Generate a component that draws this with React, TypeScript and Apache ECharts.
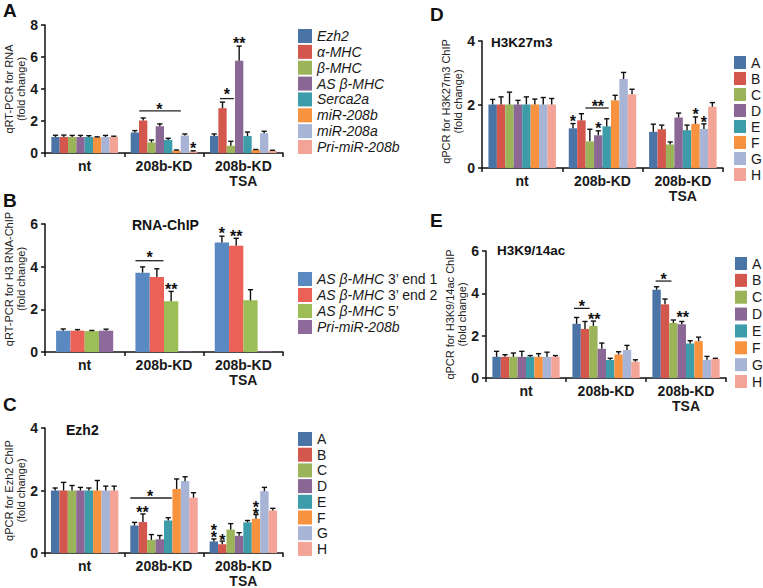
import React, { useEffect, useRef } from "react";
import * as echarts from "echarts";

const FONT = "'Liberation Sans', Arial, Helvetica, sans-serif";
const INK = "#1a1a1a";

const categories = ["nt", "208b-KD", "208b-KD\nTSA"];

const colors8 = ["#4B74A6", "#D4574E", "#9BB45A", "#8B6796", "#3C9CAA", "#F7923F", "#A8B4D6", "#F4A397"];
const colorsB = ["#5A88C0", "#EC6157", "#9DBD57", "#8E6A9C"];

// ---------- Panel A : qRT-PCR for RNA ----------
const namesA = ["Ezh2", "α-MHC", "β-MHC", "AS β-MHC", "Serca2a", "miR-208b", "miR-208a", "Pri-miR-208b"];
const valuesA = [
  [1.0, 1.28, 1.07],
  [1.0, 2.03, 2.8],
  [1.0, 0.66, 0.45],
  [1.0, 1.67, 5.76],
  [1.0, 0.82, 1.06],
  [0.98, 0.15, 0.18],
  [1.0, 1.09, 1.24],
  [1.0, 0.1, 0.14],
];
const errorsA = [
  [0.11, 0.12, 0.12],
  [0.12, 0.16, 0.38],
  [0.1, 0.15, 0.28],
  [0.1, 0.15, 0.92],
  [0.08, 0.1, 0.25],
  [0.03, 0.04, 0.04],
  [0.1, 0.1, 0.12],
  [0.05, 0.04, 0.03],
];
// [category, slot from, slot to, y]
const linesA = [
  [1, 1.02, 6.03, 2.63],
  [2, 1.2, 2.87, 3.4],
];
// [category, slot, y, kind] kind: 1 = "*", 2 = "**", 3 = two stacked "*"
const starsA = [
  [1, 3.45, 2.92, 1],
  [1, 7.5, 0.52, 1],
  [2, 2.03, 3.86, 1],
  [2, 3.5, 7.09, 2],
];

// ---------- Panel B : RNA-ChIP ----------
const namesB = ["AS β-MHC 3’ end 1", "AS β-MHC 3’ end 2", "AS β-MHC 5’", "Pri-miR-208b"];
const valuesB = [
  [1.0, 3.72, 5.13],
  [1.0, 3.52, 4.98],
  [0.98, 2.38, 2.42],
  [1.0, 0.02, 0.03],
];
const errorsB = [
  [0.08, 0.27, 0.3],
  [0.05, 0.38, 0.35],
  [0.03, 0.46, 0.5],
  [0.07, 0, 0],
];
const linesB = [[1, 0, 1.96, 4.28]];
const starsB = [
  [1, 1.0, 4.58, 1],
  [1, 2.5, 3.11, 2],
  [2, 0.5, 5.72, 1],
  [2, 1.5, 5.61, 2],
];

// ---------- Panels C, D, E : ChIP ----------
const regionNames = ["A", "B", "C", "D", "E", "F", "G", "H"];

const valuesC = [
  [2.0, 0.88, 0.37],
  [2.0, 0.99, 0.28],
  [2.0, 0.42, 0.75],
  [2.0, 0.44, 0.55],
  [2.0, 1.04, 0.98],
  [2.0, 2.05, 1.1],
  [2.0, 2.3, 1.98],
  [2.0, 1.77, 1.36],
];
const errorsC = [
  [0.08, 0.1, 0.08],
  [0.26, 0.26, 0.1],
  [0.16, 0.17, 0.19],
  [0.1, 0.12, 0.1],
  [0.08, 0.09, 0.06],
  [0.32, 0.32, 0.13],
  [0.14, 0.14, 0.12],
  [0.14, 0.16, 0.07],
];
const linesC = [[1, 0, 4.92, 1.76]];
const starsC = [
  [1, 2.35, 1.92, 1],
  [1, 1.45, 1.42, 2],
  [2, 0.5, 0.735, 3],
  [2, 1.5, 0.53, 1],
  [2, 5.5, 1.465, 3],
];

const valuesD = [
  [2.0, 1.25, 1.14],
  [2.0, 1.5, 1.22],
  [2.0, 0.84, 0.74],
  [2.0, 1.03, 1.59],
  [2.0, 1.31, 1.19],
  [2.0, 2.13, 1.39],
  [2.0, 2.8, 1.23],
  [2.0, 2.32, 1.93],
];
const errorsD = [
  [0.16, 0.15, 0.24],
  [0.24, 0.21, 0.13],
  [0.39, 0.38, 0.08],
  [0.13, 0.14, 0.14],
  [0.24, 0.24, 0.16],
  [0.17, 0.16, 0.22],
  [0.22, 0.21, 0.16],
  [0.19, 0.16, 0.13],
];
const linesD = [[1, 1.97, 4.73, 1.89]];
const starsD = [
  [1, 0.5, 1.57, 1],
  [1, 3.45, 2.05, 2],
  [1, 3.5, 1.35, 1],
  [2, 5.5, 1.79, 1],
  [2, 6.5, 1.56, 1],
];

const valuesE = [
  [1.0, 2.56, 4.17],
  [1.0, 2.32, 3.48],
  [1.0, 2.46, 2.6],
  [1.0, 1.38, 2.54],
  [1.0, 0.85, 1.63],
  [1.0, 1.11, 1.74],
  [1.0, 1.32, 0.86],
  [1.0, 0.77, 0.9],
];
const errorsE = [
  [0.26, 0.3, 0.14],
  [0.1, 0.35, 0.25],
  [0.18, 0.23, 0.14],
  [0.26, 0.27, 0.13],
  [0.06, 0.08, 0.13],
  [0.15, 0.13, 0.19],
  [0.22, 0.22, 0.16],
  [0.06, 0.09, 0.03],
];
const linesE = [
  [1, 0.19, 2.06, 3.29],
  [2, 0.39, 2.27, 4.58],
];
const starsE = [
  [1, 1.12, 3.56, 1],
  [1, 2.6, 2.93, 2],
  [2, 1.33, 4.83, 1],
  [2, 3.6, 3.01, 2],
];

const yTicksMax = [8, 6, 4, 4, 6];

function buildPanel(
  g: number,
  names: string[],
  values: number[][],
  errors: number[][],
  colors: string[],
  gapFrac: number,
  lines: number[][],
  stars: number[][]
) {
  const series: any[] = [];
  const n = names.length;
  names.forEach((name, s) => {
    series.push({
      type: "bar",
      name,
      xAxisIndex: g,
      yAxisIndex: g,
      data: values[s],
      barGap: "0%",
      barCategoryGap: `${gapFrac * 100}%`,
      itemStyle: { color: colors[s] },
      silent: true,
    });
  });
  const slotPos = (api: any, c: number, y: number, slot: number) => {
    const p = api.coord([c, y]);
    const w = api.size([1, 0])[0];
    const inner = w * (1 - gapFrac);
    return [p[0] - inner / 2 + (inner / n) * slot, p[1]];
  };
  const errData: number[][] = [];
  values.forEach((vals, s) => vals.forEach((v, c) => errData.push([c, v, errors[s][c], s])));
  series.push({
    type: "custom",
    xAxisIndex: g,
    yAxisIndex: g,
    silent: true,
    z: 5,
    encode: { x: 0, y: 1 },
    data: errData,
    renderItem: (_p: any, api: any) => {
      const c = api.value(0);
      const v = api.value(1);
      const e = api.value(2);
      const s = api.value(3);
      if (!e) return null;
      const b = slotPos(api, c, v, s + 0.5);
      const t = slotPos(api, c, v + e, s + 0.5);
      const st = { stroke: "#111", lineWidth: 1.4 };
      return {
        type: "group",
        children: [
          { type: "line", shape: { x1: b[0], y1: b[1], x2: t[0], y2: t[1] }, style: st },
          { type: "line", shape: { x1: t[0] - 2.6, y1: t[1], x2: t[0] + 2.6, y2: t[1] }, style: st },
        ],
      };
    },
  });
  series.push({
    type: "custom",
    xAxisIndex: g,
    yAxisIndex: g,
    silent: true,
    z: 6,
    encode: { x: 0, y: 3 },
    data: lines,
    renderItem: (_p: any, api: any) => {
      const c = api.value(0);
      const a = slotPos(api, c, api.value(3), api.value(1));
      const b = slotPos(api, c, api.value(3), api.value(2));
      return {
        type: "line",
        shape: { x1: a[0], y1: a[1], x2: b[0], y2: b[1] },
        style: { stroke: "#222", lineWidth: 1.3 },
      };
    },
  });
  series.push({
    type: "custom",
    xAxisIndex: g,
    yAxisIndex: g,
    silent: true,
    z: 7,
    encode: { x: 0, y: 2 },
    data: stars,
    renderItem: (_p: any, api: any) => {
      const c = api.value(0);
      const p = slotPos(api, c, api.value(2), api.value(1));
      const k = api.value(3);
      if (k === 3) {
        return {
          type: "text",
          x: p[0],
          y: p[1] + 3.7,
          style: {
            text: "*\n*",
            fontSize: 16,
            lineHeight: 7,
            fontWeight: "bold",
            fontFamily: FONT,
            fill: "#111",
            align: "center",
            verticalAlign: "middle",
          },
        };
      }
      return {
        type: "text",
        x: p[0],
        y: p[1] + 3.7,
        style: {
          text: k === 2 ? "**" : "*",
          fontSize: 16,
          fontWeight: "bold",
          fontFamily: FONT,
          fill: "#111",
          align: "center",
          verticalAlign: "middle",
        },
      };
    },
  });
  return series;
}

const grids = [
  { left: 45, top: 25, width: 238, height: 128 },
  { left: 45, top: 224, width: 238, height: 128 },
  { left: 45, top: 428, width: 238, height: 127 },
  { left: 482, top: 41, width: 241, height: 127 },
  { left: 486, top: 251, width: 240, height: 127 },
];

const yNames = [
  "qRT-PCR for RNA\n(fold change)",
  "qRT-PCR for H3 RNA-ChIP\n(fold change)",
  "qPCR for Ezh2 ChIP\n(fold change)",
  "qPCR for H3K27m3 ChIP\n(fold change)",
  "qPCR for H3K9/14ac ChIP\n(fold change)",
];
const yNamePadding = [
  [0, 0, 0, 0],
  [0, 0, 0, 18],
  [0, 0, 0, 0],
  [0, 0, 0, 6],
  [0, 0, 0, 0],
];

function legendOf(
  left: number,
  top: number,
  gap: number,
  names: string[],
  colors: string[],
  extra: any = {}
) {
  const w = extra.w || 14;
  const h = extra.h || 14;
  return {
    orient: "vertical",
    left,
    top,
    padding: 0,
    itemWidth: w,
    itemHeight: h,
    itemGap: gap,
    icon: "rect",
    selectedMode: false,
    data: names.map((name, i) => ({ name, itemStyle: { color: colors[i] } })),
    textStyle: { fontSize: 14, fontFamily: FONT, color: INK, lineHeight: h, ...(extra.textStyle || {}) },
    ...(extra.formatter ? { formatter: extra.formatter } : {}),
  };
}

function textEl(text: string, x: number, y: number, size: number) {
  return {
    type: "text",
    x,
    y,
    silent: true,
    style: {
      text,
      fontSize: size,
      fontWeight: "bold",
      fontFamily: FONT,
      fill: "#111",
      align: "left",
      verticalAlign: "middle",
    },
  };
}

export default function App() {
  const ref = useRef<HTMLDivElement>(null);
  useEffect(() => {
    document.body.style.margin = "0";
    if (!ref.current) return;
    const chart = echarts.init(ref.current, undefined, { renderer: "svg" });
    const series = [
      ...buildPanel(0, namesA, valuesA, errorsA, colors8, 0.16, linesA, starsA),
      ...buildPanel(1, namesB, valuesB, errorsB, colorsB, 0.28, linesB, starsB),
      ...buildPanel(2, regionNames, valuesC, errorsC, colors8, 0.15, linesC, starsC),
      ...buildPanel(3, regionNames, valuesD, errorsD, colors8, 0.16, linesD, starsD),
      ...buildPanel(4, regionNames, valuesE, errorsE, colors8, 0.16, linesE, starsE),
    ];
    const axisLine = { show: true, lineStyle: { color: "#111", width: 1.5 } };
    const axisTick = { show: true, length: 4, lineStyle: { color: "#111", width: 1.5 } };
    chart.setOption({
      animation: false,
      grid: grids,
      xAxis: grids.map((_, i) => ({
        type: "category",
        gridIndex: i,
        data: categories,
        axisLine,
        axisTick,
        axisLabel: {
          fontSize: 14,
          fontWeight: "bold",
          fontFamily: FONT,
          color: INK,
          margin: 5,
          lineHeight: 15,
          interval: 0,
        },
      })),
      yAxis: grids.map((_, i) => ({
        type: "value",
        gridIndex: i,
        min: 0,
        max: yTicksMax[i],
        interval: 2,
        axisLine,
        axisTick,
        splitLine: { show: false },
        axisLabel: { fontSize: 14, fontWeight: "bold", fontFamily: FONT, color: INK, margin: 7 },
        name: yNames[i],
        nameLocation: "middle",
        nameGap: 18,
        nameTextStyle: {
          fontSize: 11,
          fontFamily: FONT,
          color: "#222",
          lineHeight: 11.5,
          padding: yNamePadding[i],
        },
      })),
      legend: [
        legendOf(298, 29, 1.86, namesA, colors8, { textStyle: { fontStyle: "italic" } }),
        legendOf(298, 272, 2, namesB, colorsB, {
          formatter: (name: string) =>
            name.startsWith("AS β-MHC") ? `{i|AS β-MHC}{n|${name.slice(8)}}` : `{i|${name}}`,
          textStyle: {
            rich: {
              i: { fontSize: 14, fontFamily: FONT, fontStyle: "italic", color: INK },
              n: { fontSize: 14, fontFamily: FONT, color: INK },
            },
          },
        }),
        legendOf(298, 432, 1.7, regionNames, colors8),
        legendOf(734, 55.5, 2, regionNames, colors8, { w: 12, h: 13 }),
        legendOf(735, 256.5, 2.86, regionNames, colors8, { w: 12, h: 13 }),
      ],
      graphic: [
        textEl("A", 3, 10, 19),
        textEl("B", 3, 200, 19),
        textEl("C", 3, 404, 19),
        textEl("D", 430, 14, 19),
        textEl("E", 430, 220, 19),
        textEl("RNA-ChIP", 132, 225, 14),
        textEl("Ezh2", 66, 430, 14),
        textEl("H3K27m3", 491, 42, 13.5),
        textEl("H3K9/14ac", 497, 250, 13.5),
      ],
      series,
    });
    return () => chart.dispose();
  }, []);
  return <div ref={ref} style={{ width: 763, height: 588 }} />;
}
